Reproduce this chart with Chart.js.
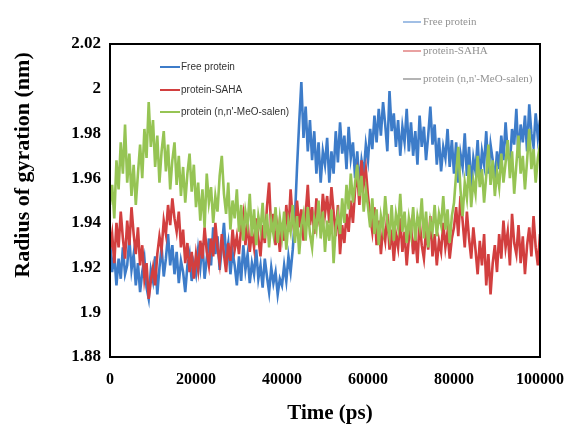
<!DOCTYPE html>
<html>
<head>
<meta charset="utf-8">
<script src="https://cdn.jsdelivr.net/npm/chart.js@4"></script>
<style>
  html, body { margin: 0; padding: 0; background: #fff; }
  canvas { display: block; }
</style>
</head>
<body>
<canvas id="rg" width="564" height="425"></canvas>
<script>
// Simulation time (ps), sampled every 500 ps
const timePs = Array.from({ length: 201 }, (_, i) => i * 500);

// Radius of gyration (nm) for each system
const freeProtein = [
  1.932,1.918,1.926,1.912,1.924,1.915,1.929,1.917,1.921,1.933,1.919,1.926,1.912,1.922,1.909,1.918,1.924,1.911,1.906,1.919,
  1.914,1.925,1.908,1.920,1.929,1.916,1.924,1.935,1.921,1.930,1.917,1.927,1.913,1.923,1.918,1.909,1.921,1.926,1.914,1.922,
  1.917,1.928,1.920,1.931,1.915,1.924,1.933,1.921,1.938,1.926,1.934,1.919,1.929,1.940,1.925,1.931,1.917,1.927,1.921,1.912,
  1.925,1.914,1.930,1.919,1.926,1.913,1.922,1.917,1.928,1.915,1.921,1.911,1.924,1.916,1.909,1.920,1.913,1.918,1.908,1.915,
  1.912,1.921,1.914,1.925,1.918,1.928,1.942,1.965,1.985,2.003,1.978,1.992,1.972,1.986,1.968,1.981,1.962,1.976,1.958,1.972,
  1.966,1.978,1.958,1.972,1.962,1.981,1.967,1.985,1.971,1.979,1.964,1.983,1.969,1.976,1.960,1.972,1.957,1.968,1.962,1.975,
  1.968,1.982,1.973,1.988,1.976,1.991,1.979,1.994,1.984,1.972,1.999,1.981,1.989,1.974,1.986,1.970,1.983,1.976,1.991,1.972,
  1.985,1.970,1.981,1.966,1.988,1.974,1.983,1.968,1.979,1.992,1.975,1.984,1.966,1.978,1.963,1.974,1.969,1.982,1.965,1.977,
  1.962,1.976,1.958,1.971,1.965,1.980,1.961,1.974,1.956,1.969,1.963,1.977,1.959,1.972,1.966,1.981,1.962,1.975,1.968,1.958,
  1.972,1.964,1.979,1.968,1.985,1.971,1.966,1.982,1.975,1.991,1.969,1.984,1.976,1.988,1.972,1.993,1.980,1.974,1.989,1.978,1.986
];

const proteinSaha = [
  1.928,1.935,1.922,1.940,1.929,1.945,1.933,1.924,1.941,1.930,1.947,1.935,1.926,1.938,1.921,1.930,1.915,1.922,1.906,1.914,
  1.920,1.912,1.926,1.934,1.928,1.941,1.935,1.948,1.939,1.951,1.942,1.936,1.945,1.929,1.937,1.922,1.931,1.918,1.927,1.915,
  1.926,1.919,1.932,1.924,1.938,1.927,1.921,1.933,1.925,1.940,1.929,1.922,1.935,1.926,1.918,1.931,1.923,1.937,1.928,1.934,
  1.926,1.938,1.944,1.930,1.941,1.927,1.936,1.929,1.942,1.933,1.925,1.939,1.931,1.947,1.958,1.936,1.944,1.930,1.938,1.927,
  1.940,1.932,1.948,1.936,1.955,1.941,1.934,1.950,1.938,1.946,1.932,1.944,1.957,1.939,1.947,1.935,1.951,1.942,1.937,1.953,
  1.944,1.952,1.940,1.956,1.945,1.934,1.948,1.926,1.939,1.931,1.944,1.936,1.950,1.940,1.955,1.962,1.948,1.968,1.957,1.964,
  1.952,1.943,1.936,1.947,1.930,1.941,1.926,1.938,1.932,1.944,1.928,1.937,1.923,1.935,1.929,1.942,1.927,1.936,1.921,1.933,
  1.939,1.926,1.934,1.922,1.941,1.930,1.924,1.937,1.928,1.943,1.925,1.935,1.921,1.932,1.927,1.940,1.929,1.936,1.924,1.933,
  1.938,1.947,1.934,1.952,1.941,1.929,1.945,1.933,1.924,1.938,1.928,1.917,1.932,1.921,1.935,1.912,1.926,1.908,1.922,1.930,
  1.918,1.935,1.924,1.941,1.929,1.936,1.921,1.944,1.931,1.926,1.939,1.922,1.934,1.917,1.930,1.938,1.925,1.943,1.929,1.921,1.935
];

const proteinSalen = [
  1.948,1.957,1.942,1.968,1.955,1.976,1.962,1.984,1.958,1.971,1.952,1.966,1.948,1.962,1.975,1.960,1.982,1.969,1.994,1.974,
  1.986,1.965,1.979,1.958,1.972,1.981,1.963,1.975,1.955,1.968,1.976,1.957,1.970,1.952,1.965,1.949,1.962,1.971,1.954,1.966,
  1.947,1.958,1.941,1.955,1.938,1.962,1.949,1.956,1.940,1.952,1.945,1.961,1.970,1.953,1.944,1.958,1.937,1.950,1.942,1.955,
  1.936,1.948,1.932,1.945,1.939,1.953,1.934,1.946,1.930,1.943,1.937,1.949,1.933,1.944,1.929,1.941,1.935,1.947,1.931,1.942,
  1.934,1.945,1.928,1.941,1.936,1.948,1.931,1.943,1.926,1.939,1.944,1.932,1.947,1.935,1.929,1.942,1.937,1.950,1.933,1.945,
  1.927,1.941,1.932,1.946,1.922,1.938,1.944,1.935,1.951,1.940,1.957,1.946,1.962,1.949,1.958,1.966,1.952,1.961,1.945,1.955,
  1.947,1.938,1.951,1.935,1.946,1.930,1.943,1.937,1.952,1.940,1.934,1.948,1.932,1.944,1.938,1.953,1.936,1.945,1.931,1.942,
  1.935,1.947,1.932,1.943,1.938,1.951,1.933,1.945,1.929,1.941,1.936,1.948,1.934,1.944,1.939,1.952,1.937,1.946,1.931,1.943,
  1.949,1.962,1.974,1.955,1.943,1.958,1.951,1.966,1.947,1.959,1.953,1.970,1.956,1.964,1.949,1.961,1.975,1.957,1.968,1.952,
  1.963,1.956,1.971,1.958,1.967,1.977,1.960,1.972,1.953,1.966,1.979,1.962,1.970,1.955,1.968,1.982,1.964,1.973,1.958,1.969,1.975
];

const seriesNames = ['Free protein', 'protein-SAHA', "protein (n,n'-MeO-salen)"];
const seriesColors = ['#3d7cc9', '#d23f3f', '#96c454'];
const xTickValues = [0, 20000, 40000, 60000, 80000, 100000];
const yTickValues = [1.88, 1.90, 1.92, 1.94, 1.96, 1.98, 2.00, 2.02];

const toPoints = arr => arr.map((v, i) => ({ x: timePs[i], y: v }));

// Frame, axis titles and the two legend blocks
const decorations = {
  id: 'decorations',
  afterDatasetsDraw(chart) {
    const { ctx, chartArea: a } = chart;
    ctx.save();
    ctx.strokeStyle = '#000';
    ctx.lineWidth = 2;
    ctx.strokeRect(a.left, a.top, a.right - a.left, a.bottom - a.top);
    ctx.restore();
  },
  afterDraw(chart) {
    const { ctx } = chart;
    ctx.save();
    // axis titles
    ctx.fillStyle = '#000';
    ctx.textAlign = 'center';
    ctx.textBaseline = 'middle';
    ctx.font = 'bold 21px "Liberation Serif", "Times New Roman", serif';
    ctx.fillText('Time (ps)', 330, 414);
    ctx.font = 'bold 22px "Liberation Serif", "Times New Roman", serif';
    ctx.translate(23, 165);
    ctx.rotate(-Math.PI / 2);
    ctx.fillText('Radius of gyration (nm)', 0, 0);
    ctx.restore();

    // legend inside the plot
    ctx.save();
    ctx.font = '10px "Liberation Sans", Arial, sans-serif';
    ctx.textBaseline = 'middle';
    ctx.textAlign = 'left';
    const rows = [67, 90, 112];
    seriesNames.forEach((name, i) => {
      ctx.strokeStyle = seriesColors[i];
      ctx.lineWidth = 2;
      ctx.beginPath();
      ctx.moveTo(160, rows[i]);
      ctx.lineTo(180, rows[i]);
      ctx.stroke();
      ctx.fillStyle = '#333';
      ctx.fillText(name, 181, rows[i]);
    });
    ctx.restore();

    // faint secondary legend, top right
    ctx.save();
    ctx.globalAlpha = 0.65;
    ctx.font = '11px "Liberation Serif", "Times New Roman", serif';
    ctx.textBaseline = 'middle';
    const rows2 = [22, 51, 79];
    seriesNames.forEach((name, i) => {
      ctx.strokeStyle = i === 2 ? '#666' : seriesColors[i];
      ctx.lineWidth = 1.5;
      ctx.beginPath();
      ctx.moveTo(403, rows2[i]);
      ctx.lineTo(421, rows2[i]);
      ctx.stroke();
      ctx.fillStyle = '#555';
      ctx.fillText(name, 423, rows2[i]);
    });
    ctx.restore();
  }
};

new Chart(document.getElementById('rg'), {
  type: 'line',
  data: {
    datasets: [
      { label: seriesNames[0], data: toPoints(freeProtein), borderColor: seriesColors[0] },
      { label: seriesNames[1], data: toPoints(proteinSaha), borderColor: seriesColors[1] },
      { label: seriesNames[2], data: toPoints(proteinSalen), borderColor: seriesColors[2] }
    ].map((d, i) => Object.assign(d, {
      borderWidth: 2.6,
      pointRadius: 0,
      tension: 0,
      fill: false,
      order: 3 - i
    }))
  },
  options: {
    responsive: false,
    animation: false,
    devicePixelRatio: 1,
    layout: { padding: { top: 44, right: 24, left: 0, bottom: 0 } },
    plugins: { legend: { display: false }, tooltip: { enabled: false } },
    scales: {
      x: {
        type: 'linear',
        min: 0,
        max: 100000,
        afterBuildTicks: s => { s.ticks = xTickValues.map(v => ({ value: v })); },
        afterFit: s => { s.height = 68; s.paddingLeft = 0; s.paddingRight = 0; },
        grid: { display: false, drawTicks: false },
        border: { display: false },
        ticks: {
          padding: 13,
          color: '#000',
          maxRotation: 0,
          font: { family: '"Liberation Serif", "Times New Roman", serif', size: 16, weight: 'bold' },
          callback: v => String(v)
        }
      },
      y: {
        type: 'linear',
        min: 1.88,
        max: 2.02,
        afterBuildTicks: s => { s.ticks = yTickValues.map(v => ({ value: v })); },
        afterFit: s => { s.width = 110; s.paddingTop = 0; s.paddingBottom = 0; },
        grid: { display: false, drawTicks: false },
        border: { display: false },
        ticks: {
          padding: 9,
          color: '#000',
          font: { family: '"Liberation Serif", "Times New Roman", serif', size: 17, weight: 'bold' },
          callback: v => String(Number(v.toFixed(2)))
        }
      }
    }
  },
  plugins: [decorations]
});
</script>
</body>
</html>
